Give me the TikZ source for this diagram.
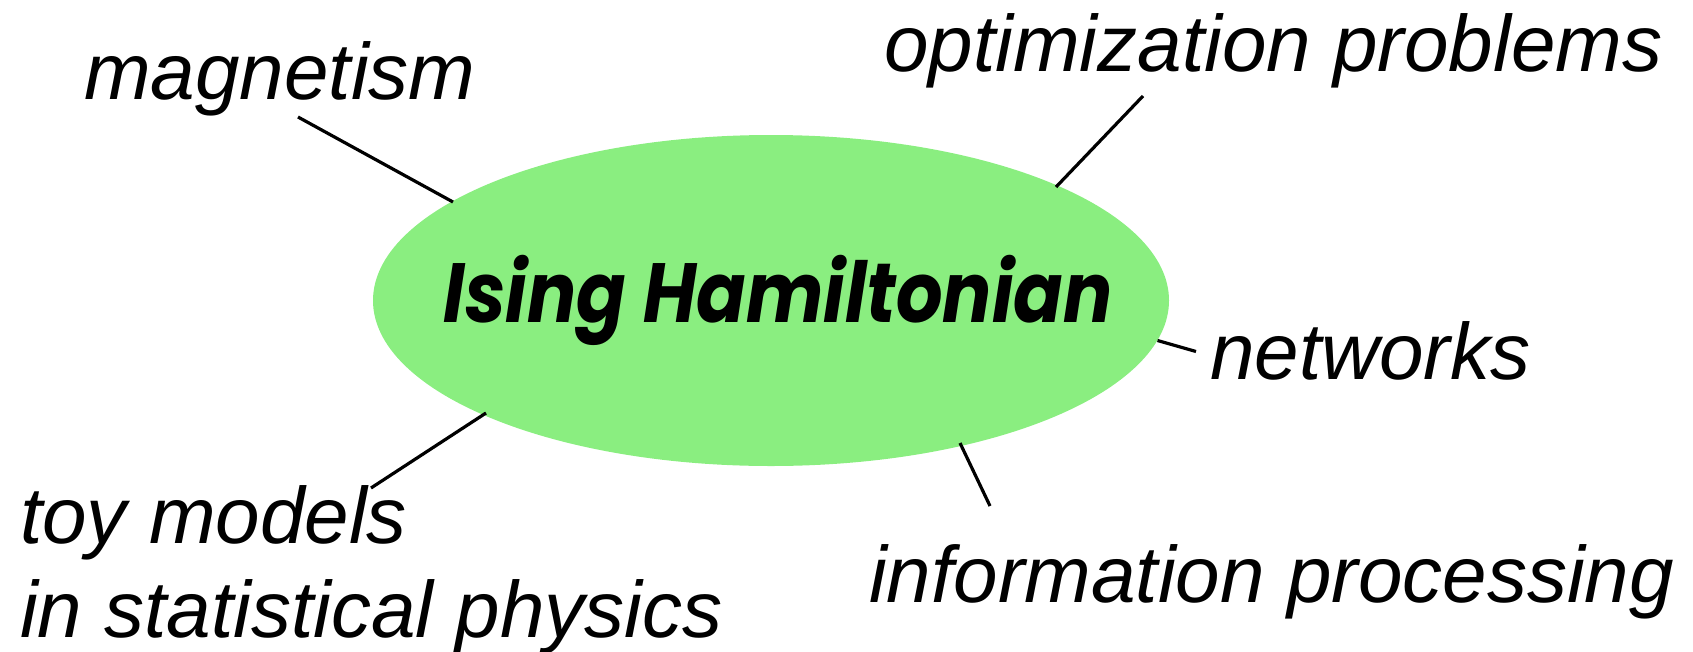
\documentclass[tikz,border=0pt]{standalone}
\usepackage{fontspec}
\usepackage{graphicx}
\setmainfont{Liberation Sans}
\newfontfamily\titlefont{Poppins}
\definecolor{ellgreen}{RGB}{138,238,128}
\begin{document}
\begin{tikzpicture}[x=1pt,y=-1pt,
  lbl/.style={anchor=base west,inner sep=0pt,font=\fontsize{80}{94}\selectfont\itshape},
  conn/.style={draw=black,line width=3.2pt}]
\useasboundingbox (0,0) rectangle (1693,651);
\fill[ellgreen] (771,300.5) ellipse [x radius=398, y radius=165.5];
\node[inner sep=0pt,anchor=base] (ising) at (778,322)
  {\scalebox{0.87}[1]{\titlefont\fontsize{84}{90}\selectfont\bfseries\itshape Ising Hamiltonian}};
\node[lbl] (mag) at (84,99) {magnetism};
\node[lbl] (opt) at (884,71) {optimization problems};
\node[lbl] (net) at (1210,379) {networks};
\node[lbl] (info) at (869,602) {information processing};
\node[lbl] (toy) at (20,543) {toy models};
\node[lbl] (stat) at (20,637) {in statistical physics};
\coordinate (m1) at (298,117); \coordinate (m2) at (453,202);
\coordinate (o1) at (1143,96); \coordinate (o2) at (1056,187);
\coordinate (n1) at (1157.5,340.5); \coordinate (n2) at (1196,351.5);
\coordinate (i1) at (960,443); \coordinate (i2) at (990,506);
\coordinate (t1) at (486,413); \coordinate (t2) at (371,488);
\draw[conn] (m1) -- (m2);
\draw[conn] (o1) -- (o2);
\draw[conn] (n1) -- (n2);
\draw[conn] (i1) -- (i2);
\draw[conn] (t1) -- (t2);
\end{tikzpicture}
\end{document}
